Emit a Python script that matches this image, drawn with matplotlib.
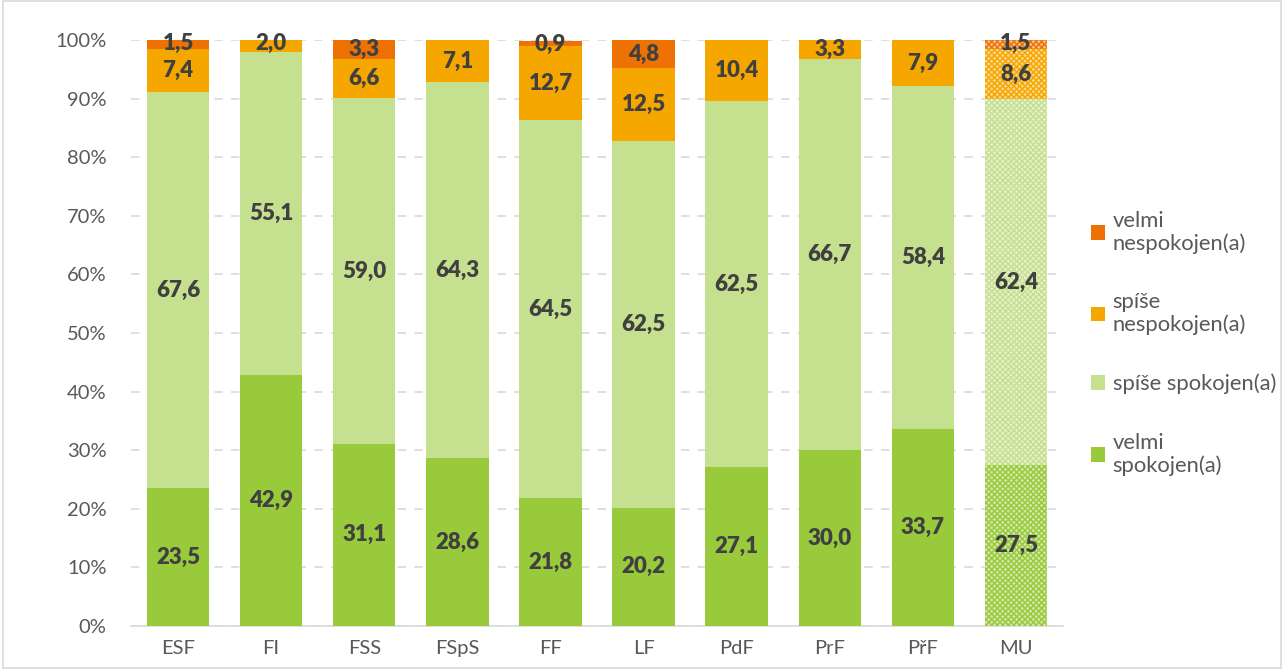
import matplotlib.pyplot as plt
import numpy as np

plt.rcParams['font.family'] = ['Lato', 'DejaVu Sans']

faculties = ['ESF', 'FI', 'FSS', 'FSpS', 'FF', 'LF', 'PdF', 'PrF', 'PřF', 'MU']
velmi_spokojen = [23.5, 42.9, 31.1, 28.6, 21.8, 20.2, 27.1, 30.0, 33.7, 27.5]
spise_spokojen = [67.6, 55.1, 59.0, 64.3, 64.5, 62.5, 62.5, 66.7, 58.4, 62.4]
spise_nespokojen = [7.4, 2.0, 6.6, 7.1, 12.7, 12.5, 10.4, 3.3, 7.9, 8.6]
velmi_nespokojen = [1.5, 0.0, 3.3, 0.0, 0.9, 4.8, 0.0, 0.0, 0.0, 1.5]

series = [
    ('velmi\nspokojen(a)', velmi_spokojen, '#99CA3C'),
    ('spíše spokojen(a)', spise_spokojen, '#C5E08E'),
    ('spíše\nnespokojen(a)', spise_nespokojen, '#F5A700'),
    ('velmi\nnespokojen(a)', velmi_nespokojen, '#EE7203'),
]

fig = plt.figure(figsize=(12.84, 6.69), dpi=100)
ax = fig.add_axes([0.1024, 0.0643, 0.7251, 0.8757])

x = np.arange(len(faculties))
bottom = np.zeros(len(faculties))
handles = []
for name, vals, color in series:
    vals = np.array(vals)
    bars = ax.bar(x[:-1], vals[:-1], 0.67, bottom=bottom[:-1], color=color,
                  linewidth=0, zorder=3, label=name)
    # MU bar: checkered/hatched fill
    ax.bar(x[-1], vals[-1], 0.67, bottom=bottom[-1],
           facecolor=plt.matplotlib.colors.to_hex(
               0.45 * np.array(plt.matplotlib.colors.to_rgb(color)) + 0.55),
           edgecolor=color, hatch='xxxxxx', linewidth=0, zorder=3)
    handles.append(bars)
    for i, v in enumerate(vals):
        if v <= 0:
            continue
        y = bottom[i] + v / 2
        if v < 2.5:
            y = bottom[i] + v - 0.6
        ax.text(x[i], y, f'{v:.1f}'.replace('.', ','), ha='center', va='center',
                fontsize=16, fontweight='heavy', color='#404040', zorder=5)
    bottom = bottom + vals

ax.set_xlim(-0.5, len(faculties) - 0.5)
ax.set_ylim(0, 100)
ax.set_yticks(np.arange(0, 101, 10))
ax.set_yticklabels([f'{t}%' for t in range(0, 101, 10)])
ax.set_xticks(x)
ax.set_xticklabels(faculties)
ax.tick_params(axis='both', length=0, labelsize=14.5, colors='#595959')
ax.tick_params(axis='y', pad=18)
ax.tick_params(axis='x', pad=10)
ax.grid(axis='y', color='#D9D9D9', linestyle=(0, (5, 5)), linewidth=1.2, zorder=0)
for s in ['top', 'right', 'left']:
    ax.spines[s].set_visible(False)
ax.spines['bottom'].set_color('#D9D9D9')
ax.spines['bottom'].set_linewidth(1.2)

leg = fig.legend(handles[::-1], [s[0] for s in series][::-1],
                 loc='center left', bbox_to_anchor=(0.834, 0.487),
                 frameon=False, fontsize=15.8, labelspacing=1.75,
                 handlelength=0.65, handleheight=0.65, handletextpad=0.35)
for t in leg.get_texts():
    t.set_color('#595959')
    t.set_linespacing(1.15)

fig.patches.append(plt.Rectangle((0.002, 0.002), 0.996, 0.996, transform=fig.transFigure,
                                 fill=False, edgecolor='#D9D9D9', linewidth=1.2))

fig.savefig('out.png', dpi=100)
